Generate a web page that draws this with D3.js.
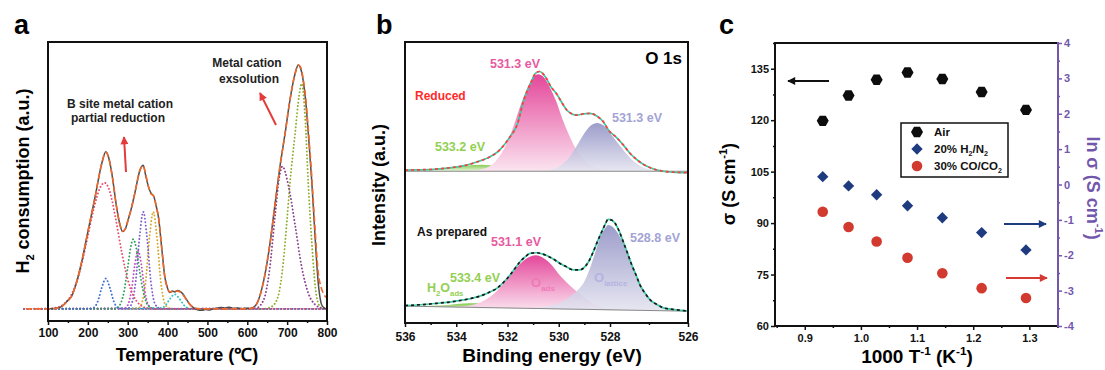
<!DOCTYPE html>
<html><head><meta charset="utf-8">
<script src="https://cdn.jsdelivr.net/npm/d3@7"></script>
<style>body{margin:0;background:#fff} svg{display:block}</style>
</head><body><svg id="c" width="1105" height="370"></svg>
<script>
// ================= DATA =================
// ---- Panel a : H2-TPR (temperature °C, a.u.) ----
const tprTicks = [100,200,300,400,500,600,700,800];
const tprMeasured = [[100,0],[110,0.1],[120,0.3],[130,0.6],[140,1.8],[150,3.5],[159,5.1],[170,10],[184,19],[201,32.6],[218,46],[235,60],[245,64.8],[252,62.5],[260,56],[272,42],[280,35],[287,31.9],[294,33],[301,36.7],[310,42],[318,47.8],[331,57.3],[339,59.2],[345,55],[352,50.4],[358,47.8],[365,46.5],[372,42],[377,38],[385,25.7],[393,13.3],[400,8.5],[406,6.7],[412,7.4],[418,7.0],[425,7.6],[432,7.1],[438,6.2],[445,4.5],[455,2],[465,0.5],[475,-0.4],[485,-0.6],[495,-0.3],[505,-0.5],[515,0],[525,0.3],[535,0.6],[545,0.4],[555,0.7],[565,0.2],[575,0.4],[585,0.1],[595,0.3],[605,0.2],[615,0.6],[625,2.5],[640,10.7],[657,27],[670,43.7],[682,58.7],[695,72.5],[707,86],[720,97],[728,100.5],[734,99],[740,94.4],[747,85],[753,72.5],[762,52],[770,29.8],[778,10.7],[785,2.5],[790,0.8],[795,0.2],[800,0]];
const tprFit = [[45,0],[100,0],[120,0.2],[135,1],[145,2.5],[159,5.2],[170,10],[184,19],[201,32.6],[218,46],[235,60],[245,64.5],[252,62.5],[260,56],[272,42],[280,35],[287,32],[294,33],[301,36.7],[310,42],[318,47.8],[331,57.3],[339,59],[345,55.5],[352,50.4],[358,47.5],[365,46.5],[372,42],[377,38],[385,25.7],[393,13.3],[400,8.5],[406,7],[415,7.2],[425,7.3],[435,6.5],[445,4.3],[455,2],[465,0.6],[480,0],[600,0],[615,0.5],[625,2.5],[640,10.7],[657,27],[670,43.7],[682,58.7],[695,72.5],[707,86],[720,97],[728,100.5],[734,99.5],[740,95],[747,86],[753,74],[762,54],[770,33],[778,15],[785,9],[792,6],[800,4.5]];
const tprPeak1 = [[40,0],[100,0.1],[120,0.5],[140,2],[160,6.3],[180,15.6],[200,30],[215,41.4],[230,49.7],[242,52],[255,48.4],[270,37],[285,23.4],[300,12.1],[315,5.2],[330,1.8],[350,0.3],[370,0],[800,0]];
const tprPeak2 = [[40,0],[200,0],[215,0.55],[225,3.1],[235,8.8],[245,12.5],[255,8.8],[265,3.1],[275,0.55],[290,0],[800,0]];
const tprPeak3 = [[40,0],[270,0],[280,1.5],[290,6.5],[300,17],[307,25],[314,28.7],[322,24.5],[330,15.5],[338,8],[348,2.2],[360,0.3],[370,0],[800,0]];
const tprPeak4 = [[40,0],[290,0.1],[300,1.5],[310,8.3],[318,18.4],[326,24],[334,18.4],[342,8.3],[352,1.5],[365,0],[800,0]];
const tprPeak5 = [[40,0],[300,0.2],[310,2.2],[320,11.4],[330,30.2],[339,40],[348,30.2],[358,11.4],[368,2.2],[380,0.2],[390,0],[800,0]];
const tprPeak6 = [[40,0],[325,0.2],[335,2.2],[345,11.4],[355,30.2],[364,40],[373,30.2],[383,11.4],[393,2.2],[405,0.2],[415,0],[800,0]];
const tprPeak7 = [[40,0],[385,0.4],[395,1.5],[405,3.9],[418,6],[431,3.9],[441,1.5],[450,0.4],[460,0],[800,0]];
const tprPeak8 = [[40,0],[620,0.2],[640,3.3],[655,15],[670,39],[680,54],[688,58.7],[703,51],[720,34.5],[736,17.7],[753,6.5],[770,1.8],[790,0.1],[800,0]];
const tprPeak9 = [[40,0],[640,0],[660,0.8],[677,5],[690,18.8],[699,35.3],[707,51.8],[720,72.4],[730,88],[736.5,92.8],[745,79.3],[753,51.8],[762,27],[774,5],[785,0.5],[800,0]];

// ---- Panel b : O 1s XPS (binding energy eV, a.u.) ----
const beTicks = [536,534,532,530,528,526];
const beBaseEnds = [536,526];
const reducedBase = [54.0,54.0];
const preparedBase = [6.0,4.2];
const reducedEnvelope = [[536.0,54.4],[535.5,54.5],[534.9,54.7],[534.2,55.3],[533.6,56.2],[533.2,57.3],[532.8,58.6],[532.3,61.6],[531.9,66.3],[531.6,71.1],[531.4,78.2],[531.1,85.3],[530.9,88.9],[530.75,89.5],[530.5,87.3],[530.3,84.0],[530.08,81.5],[529.85,78.0],[529.69,75.8],[529.5,74.5],[529.3,74.0],[529.05,74.4],[528.78,74.6],[528.5,73.6],[528.26,71.6],[528.05,68.5],[527.83,66.0],[527.65,63.2],[527.49,60.4],[527.3,58.0],[527.15,56.5],[526.9,54.9],[526.72,54.2],[526.4,53.7],[526.03,53.5]];
const reducedOads = [[536,54.0],[534,54.0],[533.5,54.1],[533.0,54.7],[532.5,57.2],[532.0,64.5],[531.75,70.4],[531.5,77.2],[531.25,83.1],[531.0,87.4],[530.8,88.5],[530.6,87.6],[530.35,83.9],[530.1,78.9],[529.85,72.4],[529.6,66.9],[529.3,61.4],[529.0,57.9],[528.6,55.4],[528.2,54.3],[528.0,54.0],[526,54.0]];
const reducedOlattice = [[536,54.0],[531,54.0],[530.5,54.2],[530.0,55.6],[529.6,58.8],[529.3,63],[529.0,67.5],[528.75,70.3],[528.5,71.2],[528.25,70.3],[528.0,67.6],[527.75,63.2],[527.5,59],[527.25,56.1],[527.0,54.7],[526.5,54.1],[526,54.0]];
const reducedH2O = [[536,54.2],[535,54.6],[534.3,55.3],[533.6,56.0],[533.0,56.3],[532.4,55.8],[531.8,55.0],[531.2,54.4],[530.5,54.05],[530,54.0],[526,54.0]];
const preparedEnvelope = [[536.0,6.2],[535.4,6.5],[534.76,7.0],[534.2,7.5],[533.72,8.2],[533.3,9.0],[532.94,10.0],[532.7,11.0],[532.42,12.3],[532.15,14.5],[531.9,17.1],[531.7,19.5],[531.51,21.8],[531.3,23.6],[531.12,24.8],[530.86,25.0],[530.65,24.6],[530.47,24.0],[530.2,22.7],[529.95,21.2],[529.7,20.0],[529.43,18.9],[529.2,18.9],[529.04,19.5],[528.85,21.6],[528.65,25.4],[528.48,29.2],[528.32,32.5],[528.18,35.3],[528.07,36.9],[527.95,36.6],[527.87,35.5],[527.76,32.5],[527.66,28.9],[527.55,24.8],[527.44,20.6],[527.33,17],[527.23,13.5],[527.1,10.6],[526.97,8.2],[526.8,6.6],[526.63,5.4],[526.3,4.7],[526.03,4.3]];
const preparedOads = [[536,6.0],[534.5,5.75],[533.9,5.85],[533.4,6.4],[532.9,8.0],[532.4,11.5],[531.9,16.8],[531.4,22.0],[530.9,24.1],[530.4,21.8],[529.9,16.4],[529.4,12.0],[528.9,8.3],[528.4,5.9],[527.9,4.9],[527.4,4.5],[526,4.2]];
const preparedOlattice = [[536,6.0],[531.5,5.2],[531.0,5.4],[530.5,5.9],[530.0,7.0],[529.5,9.8],[529.2,12.3],[529.0,14.8],[528.8,19],[528.6,24.5],[528.4,30],[528.2,33.6],[528.07,34.9],[527.9,33.8],[527.7,29.5],[527.5,23],[527.3,16.5],[527.1,11],[526.9,7.5],[526.6,5.3],[526.3,4.5],[526,4.2]];
const preparedH2O = [[536,6.0],[535,6.15],[534.3,6.45],[533.7,6.9],[533.2,7.0],[532.6,6.6],[532.0,6.0],[531.4,5.4],[530.8,5.1],[530,4.9],[526,4.2]];

// ---- Panel c : conductivity ----
const invT = [0.932,0.978,1.028,1.083,1.145,1.215,1.294];
const sigmaAir = [119.8,127.2,131.8,133.9,132.0,128.2,123.0];
const lnSigmaH2 = [0.22,-0.04,-0.29,-0.60,-0.94,-1.36,-1.85];
const lnSigmaCO = [-0.77,-1.20,-1.61,-2.07,-2.51,-2.93,-3.21];
const invTTicks = [0.9,1.0,1.1,1.2,1.3];
const invTMinor = [0.85,0.95,1.05,1.15,1.25,1.35];
const sigmaTicks = [60,75,90,105,120,135];
const sigmaMinor = [67.5,82.5,97.5,112.5,127.5,142.5];
const lnTicks = [-4,-3,-2,-1,0,1,2,3,4];
const lnMinor = [-3.5,-2.5,-1.5,-0.5,0.5,1.5,2.5,3.5];
const legendLabels = ["Air","20% H2/N2","30% CO/CO2"];

// ================= DRAW =================
const FONT = '"Liberation Sans", Arial, Helvetica, sans-serif';
const svg = d3.select("#c").attr("font-family", FONT);
const defs = svg.append("defs");

function rich(sel, parts, size) {
  let shift = 0;
  parts.forEach(p => {
    const target = p.sub ? size*0.28 : (p.sup ? -size*0.42 : 0);
    sel.append("tspan").attr("dy", target - shift)
      .attr("font-size", (p.sub||p.sup) ? size*0.62 : size).text(p.t);
    shift = target;
  });
  return sel;
}
function styleAxis(g, size, color) {
  g.attr("font-family", FONT).attr("font-size", size).attr("font-weight","bold");
  g.select(".domain").remove();
  g.selectAll(".tick line").attr("stroke", color||"#111").attr("stroke-width",1.5);
  g.selectAll(".tick text").attr("fill", color||"#111");
}
function marker(id, color, w, h) {
  defs.append("marker").attr("id", id).attr("viewBox","0 0 10 10")
    .attr("refX", 9).attr("refY", 5).attr("markerUnits","userSpaceOnUse")
    .attr("markerWidth", w).attr("markerHeight", h).attr("orient","auto")
    .append("path").attr("d","M0,0L10,5L0,10Z").attr("fill", color);
}
marker("arRed","#e53a3a",9,8);
marker("arBlack","#111",12,8);
marker("arNavy","#1f3b80",12,8);
marker("arRed2","#d63a32",12,8);

// ---------- Panel a ----------
const xA = d3.scaleLinear().domain([100,800]).range([48,327]);
const yA = d3.scaleLinear().domain([-5,110]).range([321,42]);
const gA = svg.append("g");
const lineA = d3.line().x(d=>xA(d[0])).y(d=>yA(d[1])).curve(d3.curveMonotoneX);
const tprComps = [
  [tprPeak9,"#8fae2f"],[tprPeak8,"#8b3f8f"],[tprPeak7,"#2ec4c4"],[tprPeak6,"#d4a82a"],
  [tprPeak5,"#7c5fd0"],[tprPeak4,"#c04fc0"],[tprPeak3,"#2fa05a"],[tprPeak2,"#3f6fd0"],[tprPeak1,"#e8506e"]
];
tprComps.forEach(([data,col]) => {
  gA.append("path").attr("d", lineA(data)).attr("fill","none").attr("stroke", col)
    .attr("stroke-width",1.9).attr("stroke-dasharray","0.1 3.4").attr("stroke-linecap","round");
});
gA.append("path").attr("d", lineA(tprMeasured)).attr("fill","none").attr("stroke","#4d4d4d").attr("stroke-width",1.5);
gA.append("path").attr("d", lineA(tprFit)).attr("fill","none").attr("stroke","#f0682a").attr("stroke-width",1.6).attr("stroke-dasharray","6 3");
gA.append("rect").attr("x",48).attr("y",42).attr("width",279).attr("height",279)
  .attr("fill","none").attr("stroke","#111").attr("stroke-width",2);
const axA = gA.append("g").attr("transform","translate(0,321)")
  .call(d3.axisBottom(xA).tickValues(tprTicks).tickSize(4).tickPadding(3));
styleAxis(axA, 12);
const axAm = gA.append("g").attr("transform","translate(0,321)")
  .call(d3.axisBottom(xA).tickValues(d3.range(150,800,100)).tickSize(2).tickFormat(""));
styleAxis(axAm, 12);
gA.append("text").attr("x",187).attr("y",361).attr("text-anchor","middle")
  .attr("font-size",18).attr("font-weight","bold").text("Temperature (℃)");
rich(gA.append("text").attr("transform","translate(29,181) rotate(-90)").attr("text-anchor","middle")
  .attr("font-weight","bold").attr("font-size",18),
  [{t:"H"},{t:"2",sub:true},{t:" consumption (a.u.)"}], 18);
gA.append("text").attr("x",14).attr("y",34).attr("font-size",27).attr("font-weight","bold").text("a");
gA.append("text").attr("x",247).attr("y",67).attr("text-anchor","middle").attr("font-size",12).attr("font-weight","bold").attr("fill","#222").text("Metal cation");
gA.append("text").attr("x",249).attr("y",83).attr("text-anchor","middle").attr("font-size",12).attr("font-weight","bold").attr("fill","#222").text("exsolution");
gA.append("text").attr("x",67).attr("y",108).attr("font-size",12).attr("font-weight","bold").attr("fill","#222").text("B site metal cation");
gA.append("text").attr("x",71).attr("y",122).attr("font-size",12).attr("font-weight","bold").attr("fill","#222").text("partial reduction");
gA.append("line").attr("x1",126).attr("y1",172).attr("x2",124).attr("y2",137)
  .attr("stroke","#e53a3a").attr("stroke-width",2).attr("marker-end","url(#arRed)");
gA.append("line").attr("x1",276).attr("y1",125).attr("x2",260).attr("y2",93)
  .attr("stroke","#e53a3a").attr("stroke-width",2).attr("marker-end","url(#arRed)");

// ---------- Panel b ----------
const xB = d3.scaleLinear().domain([536,528,526]).range([405,610,688]);
const yB = d3.scaleLinear().domain([0,100]).range([323,42]);
const gB = svg.append("g");
const redBase = d3.scaleLinear().domain(beBaseEnds).range(reducedBase);
const prepBase = d3.scaleLinear().domain(beBaseEnds).range(preparedBase);
const lineB = d3.line().x(d=>xB(d[0])).y(d=>yB(d[1])).curve(d3.curveMonotoneX);
function areaB(base) {
  return d3.area().x(d=>xB(d[0])).y0(d=>yB(base(d[0]))).y1(d=>yB(d[1])).curve(d3.curveMonotoneX);
}
function grad(id, top, bottom) {
  const g = defs.append("linearGradient").attr("id", id).attr("x1",0).attr("y1",0).attr("x2",0).attr("y2",1);
  g.append("stop").attr("offset","0%").attr("stop-color", top);
  g.append("stop").attr("offset","100%").attr("stop-color", bottom);
}
grad("gPink","#e4479a","#fbe4f0");
grad("gPurple","#8f8fc4","#e4e4f0");
grad("gGreen","#86cc50","#eaf6e0");
[[reducedBase, redBase, reducedH2O, reducedOads, reducedOlattice, reducedEnvelope, "#ff3b3b"],
 [preparedBase, prepBase, preparedH2O, preparedOads, preparedOlattice, preparedEnvelope, "#1a1a1a"]]
.forEach(([bv, base, h2o, oads, olat, env, col]) => {
  gB.append("path").attr("d", areaB(base)(h2o)).attr("fill","url(#gGreen)");
  gB.append("path").attr("d", areaB(base)(oads)).attr("fill","url(#gPink)");
  gB.append("path").attr("d", areaB(base)(olat)).attr("fill","url(#gPurple)").attr("fill-opacity",0.88);
  gB.append("path").attr("d", lineB(beBaseEnds.map((b,i)=>[b,bv[i]]))).attr("stroke","#8a8a8a").attr("stroke-width",1).attr("fill","none");
  gB.append("path").attr("d", lineB(env)).attr("fill","none").attr("stroke","#3ccaa6").attr("stroke-width",1.7);
  gB.append("path").attr("d", lineB(env)).attr("fill","none").attr("stroke",col).attr("stroke-width",1.7).attr("stroke-dasharray","3 3");
});
gB.append("rect").attr("x",405).attr("y",42).attr("width",283).attr("height",281)
  .attr("fill","none").attr("stroke","#111").attr("stroke-width",2);
const axB = gB.append("g").attr("transform","translate(0,323)")
  .call(d3.axisBottom(xB).tickValues(beTicks).tickSize(4).tickPadding(5));
styleAxis(axB, 12);
const axBm = gB.append("g").attr("transform","translate(0,323)")
  .call(d3.axisBottom(xB).tickValues([535,533,531,529,527]).tickSize(2).tickFormat(""));
styleAxis(axBm, 12);
gB.append("text").attr("x",552).attr("y",362).attr("text-anchor","middle")
  .attr("font-size",19).attr("font-weight","bold").text("Binding energy (eV)");
gB.append("text").attr("transform","translate(385,185) rotate(-90)").attr("text-anchor","middle")
  .attr("font-size",18).attr("font-weight","bold").text("Intensity (a.u.)");
gB.append("text").attr("x",376).attr("y",34).attr("font-size",27).attr("font-weight","bold").text("b");
gB.append("text").attr("x",682).attr("y",64).attr("text-anchor","end").attr("font-size",17).attr("font-weight","bold").text("O 1s");
const tB = (x,y,txt,col,size,anchor) => gB.append("text").attr("x",x).attr("y",y)
  .attr("text-anchor",anchor||"middle").attr("font-size",size||12.5).attr("font-weight","bold").attr("fill",col).text(txt);
tB(515,68,"531.3 eV","#e65aa0");
tB(415,100,"Reduced","#ff2b2b",12,"start");
tB(637,122,"531.3 eV","#a3a3d6");
tB(460,151,"533.2 eV","#92d052");
tB(417,236,"As prepared","#111",12,"start");
tB(516,246,"531.1 eV","#e65aa0");
tB(655,242,"528.8 eV","#a3a3d6");
tB(475,282,"533.4 eV","#92d052");
rich(gB.append("text").attr("x",427).attr("y",292).attr("font-weight","bold").attr("fill","#92d052"),
  [{t:"H"},{t:"2",sub:true},{t:"O"},{t:"ads",sub:true}], 12.5);
rich(gB.append("text").attr("x",531).attr("y",287).attr("fill","#f07ab8").attr("font-weight","bold"),
  [{t:"O"},{t:"ads",sub:true}], 13);
rich(gB.append("text").attr("x",594).attr("y",282).attr("fill","#b4b4e2").attr("font-weight","bold"),
  [{t:"O"},{t:"lattice",sub:true}], 13);

// ---------- Panel c ----------
const xC = d3.scaleLinear().domain([0.847,1.351]).range([775,1058]);
const yCL = d3.scaleLinear().domain([60,142.5]).range([326,43]);
const yCR = d3.scaleLinear().domain([-4,4]).range([326,43]);
const PURPLE = "#7257ad";
const gC = svg.append("g");
const axCL = gC.append("g").attr("transform","translate(775,0)")
  .call(d3.axisLeft(yCL).tickValues(sigmaTicks).tickSize(4).tickPadding(2));
styleAxis(axCL, 11);
styleAxis(gC.append("g").attr("transform","translate(775,0)")
  .call(d3.axisLeft(yCL).tickValues(sigmaMinor).tickSize(2).tickFormat("")), 11);
const axCR = gC.append("g").attr("transform","translate(1058,0)")
  .call(d3.axisRight(yCR).tickValues(lnTicks).tickSize(4).tickPadding(2).tickFormat(d=>String(d)));
styleAxis(axCR, 11, PURPLE);
styleAxis(gC.append("g").attr("transform","translate(1058,0)")
  .call(d3.axisRight(yCR).tickValues(lnMinor).tickSize(2).tickFormat("")), 11, PURPLE);
const axCB = gC.append("g").attr("transform","translate(0,326)")
  .call(d3.axisBottom(xC).tickValues(invTTicks).tickSize(4).tickPadding(4).tickFormat(d3.format(".1f")));
styleAxis(axCB, 11);
styleAxis(gC.append("g").attr("transform","translate(0,326)")
  .call(d3.axisBottom(xC).tickValues(invTMinor).tickSize(2).tickFormat("")), 11);
gC.append("path").attr("d","M1058,43H775V326H1058").attr("fill","none").attr("stroke","#111").attr("stroke-width",2);
gC.append("line").attr("x1",1058).attr("x2",1058).attr("y1",42).attr("y2",327).attr("stroke",PURPLE).attr("stroke-width",2);

const hexPath = r => d3.line()(d3.range(6).map(i => [r*Math.cos(i*Math.PI/3), r*Math.sin(i*Math.PI/3)])) + "Z";
const diamond = d3.symbol().type(d3.symbolSquare).size(64)();
gC.selectAll(".air").data(invT).join("path").attr("d", hexPath(6))
  .attr("transform",(d,i)=>`translate(${xC(d)},${yCL(sigmaAir[i])})`).attr("fill","#0d0d0d");
gC.selectAll(".h2").data(invT).join("path").attr("d", diamond)
  .attr("transform",(d,i)=>`translate(${xC(d)},${yCR(lnSigmaH2[i])}) rotate(45)`).attr("fill","#1f3b80");
gC.selectAll(".co").data(invT).join("circle").attr("r",5.3)
  .attr("cx",d=>xC(d)).attr("cy",(d,i)=>yCR(lnSigmaCO[i])).attr("fill","#d2392f");

// legend
gC.append("rect").attr("x",901).attr("y",123).attr("width",107).attr("height",54)
  .attr("fill","#fff").attr("stroke","#111").attr("stroke-width",1.5);
gC.append("path").attr("d",hexPath(6)).attr("transform","translate(917,132)").attr("fill","#0d0d0d");
gC.append("path").attr("d",diamond).attr("transform","translate(917,149) rotate(45)").attr("fill","#1f3b80");
gC.append("circle").attr("cx",917).attr("cy",166).attr("r",5.3).attr("fill","#d2392f");
const lg = (y, parts) => rich(gC.append("text").attr("x",934).attr("y",y).attr("font-weight","bold").attr("fill","#111"), parts, 11.5);
lg(136,[{t:legendLabels[0]}]);
lg(153,[{t:"20% H"},{t:"2",sub:true},{t:"/N"},{t:"2",sub:true}]);
lg(170,[{t:"30% CO/CO"},{t:"2",sub:true}]);

// arrows
gC.append("line").attr("x1",829).attr("x2",788).attr("y1",81).attr("y2",81).attr("stroke","#111").attr("stroke-width",2).attr("marker-end","url(#arBlack)");
gC.append("line").attr("x1",1004).attr("x2",1046).attr("y1",224).attr("y2",224).attr("stroke","#1f3b80").attr("stroke-width",2).attr("marker-end","url(#arNavy)");
gC.append("line").attr("x1",1006).attr("x2",1047).attr("y1",278).attr("y2",278).attr("stroke","#d63a32").attr("stroke-width",2).attr("marker-end","url(#arRed2)");

// titles
gC.append("text").attr("x",719).attr("y",34).attr("font-size",27).attr("font-weight","bold").text("c");
rich(gC.append("text").attr("x",917).attr("y",363).attr("text-anchor","middle").attr("font-weight","bold"),
  [{t:"1000 T"},{t:"-1",sup:true},{t:" (K"},{t:"-1",sup:true},{t:")"}], 19);
rich(gC.append("text").attr("transform","translate(735,184) rotate(-90)").attr("text-anchor","middle").attr("font-weight","bold"),
  [{t:"σ (S cm"},{t:"-1",sup:true},{t:")"}], 18);
rich(gC.append("text").attr("transform","translate(1087,188) rotate(90)").attr("text-anchor","middle").attr("font-weight","bold").attr("fill",PURPLE),
  [{t:"ln σ (S cm"},{t:"-1",sup:true},{t:")"}], 18);
</script></body></html>
